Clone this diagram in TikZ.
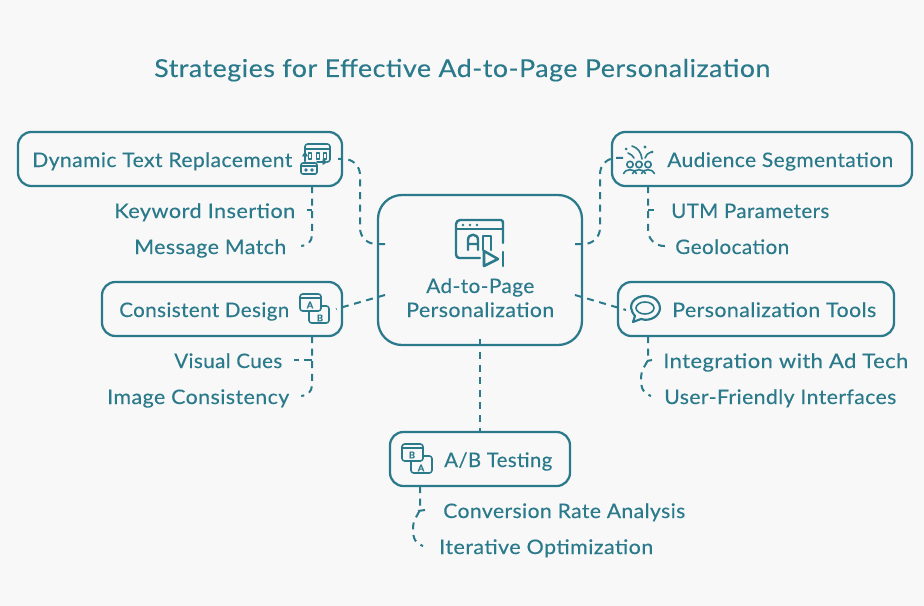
\documentclass[tikz,border=0pt]{standalone}
\usepackage{graphicx}
\usepackage{fontspec}
\setmainfont{Lato}[LetterSpace=2,FakeBold=0.3]
\newcommand\fitw[2]{\resizebox{\dimexpr#1pt*3/4\relax}{\height}{#2}}
\definecolor{teal1}{HTML}{2B7A8B}
\definecolor{pagebg}{HTML}{F8F8F8}
\tikzset{
 boxn/.style={draw=teal1,line width=1.7pt,rounded corners=#1,inner sep=0pt,fill=none},
 boxn/.default=10pt,
 lab/.style={text=teal1,inner sep=0pt,anchor=base west,font=\fontsize{15}{17}\selectfont},
 ttl/.style={text=teal1,inner sep=0pt,anchor=base west,font=\fontsize{18.5}{21}\selectfont},
 conn/.style={draw=teal1,line width=1.5pt,dash pattern=on 5.25pt off 4.2pt},
 ico/.style={draw=teal1,line width=1.2pt,line cap=round,line join=round},
 icot/.style={text=teal1,inner sep=0pt,font=\fontsize{7}{8}\selectfont\bfseries},
}
\begin{document}
\begin{tikzpicture}[x=0.75pt,y=-0.75pt]
\useasboundingbox (0,0) rectangle (924,606);
\fill[pagebg] (0,0) rectangle (924,606);
% title
\node[ttl] (title) at (154,77) {\fitw{616}{Strategies for Effective Ad-to-Page Personalization}};
% boxes
\node[boxn=18pt,minimum width=153pt,minimum height=112.5pt] (hub) at (480,270) {};
\node[boxn,minimum width=243pt,minimum height=40.5pt] (dtr) at (180,159) {};
\node[boxn,minimum width=180pt,minimum height=40.5pt] (cd) at (222,309) {};
\node[boxn,minimum width=225pt,minimum height=40.5pt] (aud) at (762,159) {};
\node[boxn,minimum width=207pt,minimum height=40.5pt] (tools) at (756,309) {};
\node[boxn,minimum width=135pt,minimum height=40.5pt] (ab) at (480,459) {};
% box labels
\node[lab] (l1) at (32,167) {\fitw{260}{Dynamic Text Replacement}};
\node[lab] (l2) at (119,317) {\fitw{170}{Consistent Design}};
\node[lab] (l3) at (667,167) {\fitw{226}{Audience Segmentation}};
\node[lab] (l4) at (672,317) {\fitw{204}{Personalization Tools}};
\node[lab] (l5) at (444,467) {\fitw{108}{A/B Testing}};
\node[lab] (h1) at (426,293) {\fitw{108}{Ad-to-Page}};
\node[lab] (h2) at (406,317) {\fitw{148}{Personalization}};
% item labels
\node[lab] (k1) at (114,218) {\fitw{181}{Keyword Insertion}};
\node[lab] (k2) at (134,254) {\fitw{152}{Message Match}};
\node[lab] (v1) at (174,368) {\fitw{108}{Visual Cues}};
\node[lab] (v2) at (107,404) {\fitw{182}{Image Consistency}};
\node[lab] (u1) at (671,218) {\fitw{158}{UTM Parameters}};
\node[lab] (u2) at (675,254) {\fitw{114}{Geolocation}};
\node[lab] (i1) at (663,368) {\fitw{245}{Integration with Ad Tech}};
\node[lab] (i2) at (664,404) {\fitw{232}{User-Friendly Interfaces}};
\node[lab] (c1) at (443,518) {\fitw{242}{Conversion Rate Analysis}};
\node[lab] (c2) at (439,554) {\fitw{214}{Iterative Optimization}};
% anchors for connector ends
\coordinate (hw1) at (385,244);
\coordinate (hw2) at (385,295);
\coordinate (he1) at (575,244);
\coordinate (he2) at (575,295);
\coordinate (dtrE) at (338,159);
\coordinate (cdE) at (336,309);
\coordinate (audE) at (624,158);
\coordinate (toolsE) at (626,310);
\coordinate (m1) at (360,200);
\coordinate (m2) at (600,200);
\coordinate (dS) at (312,186);
\coordinate (cS) at (312,336);
\coordinate (aS) at (648,186);
\coordinate (tS) at (648,336);
\coordinate (bS) at (420,486);
% hub connectors
\draw[conn,rounded corners=12pt] (hw1) -| (m1) |- (dtrE);
\draw[conn] (hw2) -- (cdE);
\draw[conn,rounded corners=12pt] (he1) -| (m2) |- (audE);
\draw[conn] (he2) -- (toolsE);
\draw[conn] ([yshift=5pt]hub.south) -- (ab.north);
% branches
\coordinate (kE) at (307,210);
\coordinate (mE) at (302,246);
\draw[conn,rounded corners=8pt] (dS) |- (mE);
\draw[conn,solid] (312,210) -- (kE);
\coordinate (vE) at (294,360);
\coordinate (iE) at (302,396);
\draw[conn,rounded corners=8pt] (cS) |- (iE);
\draw[conn,solid] (312,360) -- (304,360);
\draw[conn,solid] (299,360) -- (vE);
\coordinate (uE) at (654,210);
\coordinate (gE) at (667,246);
\draw[conn,rounded corners=12pt] (aS) |- (gE);
\draw[conn,solid] (648,210) -- (uE);
\coordinate (iaE) at (652,360);
\coordinate (ufE) at (651,396);
\draw[conn] (tS) -- (648,356) .. controls (648,366) and (641,366) .. (641,379) .. controls (641,390) and (644,393) .. (ufE);
\draw[conn,solid] (647,361) -- (iaE);
\coordinate (crE) at (425,510);
\coordinate (ioE) at (423,546);
\draw[conn] (bS) -- (420,506) .. controls (420,516) and (413,516) .. (413,529) .. controls (413,540) and (416,543) .. (ioE);
\draw[conn,solid] (418,511) -- (crE);
% hub icon
\draw[ico,line width=1.8pt] (480,258) -- (459,258) .. controls (457,258) and (456,256) .. (456,254) -- (456,224) .. controls (456,222) and (458,220) .. (460,220) -- (501,220) .. controls (503,220) and (503,222) .. (503,224) -- (503,243);
\draw[ico,line width=1.8pt] (457,229) -- (503,229);
\fill[teal1] (463,225) circle (1.4) (470,225) circle (1.4) (477,225) circle (1.4);
\draw[ico,line width=1.8pt] (468,250) -- (468,240) .. controls (468,233) and (478,233) .. (478,240) -- (478,250) (468,244) -- (478,244);
\draw[ico,line width=1.8pt] (483,250) -- (483,236) -- (491,236) -- (491,250);
\draw[ico,line width=1.9pt] (484,251) -- (498,259) -- (484,266) -- cycle;
\draw[ico,line width=1.9pt] (503,252) -- (503,266);
% dtr icon
\draw[ico,rounded corners=2pt] (305,161) -- (305,144) -- (330,144) -- (330,162) -- (327,162);
\draw[ico] (305,149) -- (330,149);
\foreach \xx in {310,318,325}{\draw[ico,line width=1pt] (\xx-1.5,153) rectangle (\xx+1.5,159);}
\draw[ico,rounded corners=1.5pt] (301,163) rectangle (317,174);
\draw[ico] (301,166) -- (317,166);
\fill[teal1] (306,170) circle (1.8) (312,170) circle (1.8);
\draw[ico] (305,161) -- (305,154) (303,156) -- (305,153) -- (307,156);
\draw[ico] (317,162) -- (325,162) (323,160) -- (326,162) -- (323,164);
% consistent icon
\draw[ico,rounded corners=2pt] (300,294) rectangle (321,311);
\draw[ico] (300,298) -- (321,298);
\node[icot] (ca) at (310,305) {A};
\draw[ico,rounded corners=2pt] (322,306) -- (329,306) -- (329,323) -- (309,323) -- (309,312);
\node[icot] (cb) at (320,318) {B};
% ab icon
\draw[ico,rounded corners=2pt] (402,444) rectangle (423,461);
\draw[ico] (402,448) -- (423,448);
\node[icot] (bb) at (412,455) {B};
\draw[ico,rounded corners=2pt] (424,456) -- (432,456) -- (432,473) -- (411,473) -- (411,462);
\node[icot] (ba) at (421,468) {A};
% audience icon
\foreach \xx in {630,639,648}{
 \draw[ico] (\xx,164.5) circle (3.2);
 \draw[ico] (\xx-6.5,173.5) .. controls (\xx-5,168.5) and (\xx+5,168.5) .. (\xx+6.5,173.5);
}
\draw[ico] (632,146) .. controls (638,148) and (641,152) .. (642,159);
\draw[ico] (628,153) .. controls (631,154) and (633,156) .. (634,158);
\draw[ico] (645,158) .. controls (646,155) and (648,153) .. (651,152);
\fill[teal1] (626,149) circle (1.5) (645,147) circle (1.6) (652,152) circle (1.5);
% speech icon
\draw[ico,line width=1.6pt] (633,322) -- (635,316) .. controls (625,304) and (636,296) .. (645,296) .. controls (656,296) and (660,303) .. (660,308) .. controls (660,316) and (650,322) .. (641,319) -- cycle;
\draw[ico] (645,308) ellipse (9 and 6);
\end{tikzpicture}
\end{document}
